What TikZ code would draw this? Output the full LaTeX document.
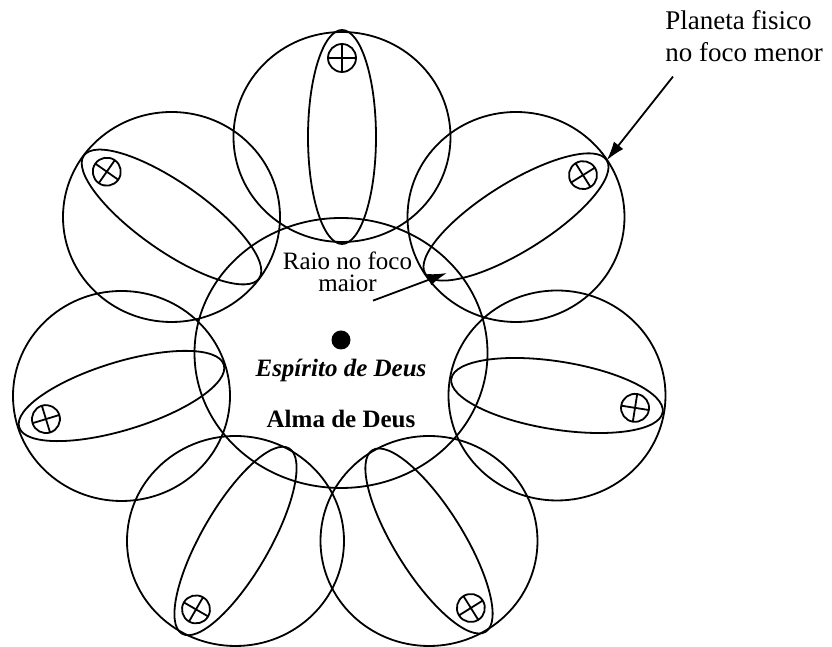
\documentclass[tikz,border=0pt]{standalone}
\usepackage{fontspec}
\setmainfont{Liberation Serif}
\usetikzlibrary{arrows.meta,positioning}

\begin{document}
\begin{tikzpicture}[
  x=0.5pt, y=0.5pt,
  line width=0.9pt,
  txt/.style={inner sep=0pt, font=\fontsize{12.5}{11}\selectfont},
  bigtxt/.style={inner sep=0pt, font=\fontsize{13.5}{16}\selectfont},
  arrow/.style={-{Latex[length=9.5pt,width=6pt]},line width=0.9pt}
]
  \useasboundingbox (0,0) rectangle (832,647);
  % alma de Deus
  \draw (341,294) ellipse [x radius=146.5, y radius=135];
  \node[circle,fill,inner sep=0pt,minimum size=9.5pt] (nucleo) at (341,307) {};
  % sete orbitas
  \foreach \cx/\cy/\ang/\id in {342/510/90/t, 171.5/430/145/ul, 516/430/32/ur,
      121.5/251/197/l, 557/251.5/-9/r, 235.5/106/240/ll, 429/106/-58/lr}{
    \draw (\cx,\cy) ellipse [x radius=108.5, y radius=105];
    \begin{scope}[shift={(\cx,\cy)}, rotate=\ang]
      \draw (0,0) ellipse [x radius=107, y radius=34];
      \draw (79,0) circle (14) (65,0) -- (93,0) (79,-14) -- (79,14);
      \coordinate (tip-\id) at (107,0);
    \end{scope}
  }
  % textos
  \node[txt,anchor=base] (espirito) at (341,270) {\bfseries\itshape Espírito de Deus};
  \node[txt,anchor=base] (alma) at (341,219) {\bfseries Alma de Deus};
  \node[txt,align=center,anchor=north] (raio) at (347.5,396) {Raio no foco\\maior};
  \node[bigtxt,align=left,anchor=north west] (planeta) at (664.5,637.5)
    {Planeta fisico\\no foco menor};
  % setas
  \coordinate (foco) at (447,374);
  \draw[arrow] ([shift={(25.5,-8)}]raio.south) -- (foco);
  \draw[arrow] ([shift={(8.5,-14)}]planeta.south west) -- (tip-ur);
\end{tikzpicture}
\end{document}
